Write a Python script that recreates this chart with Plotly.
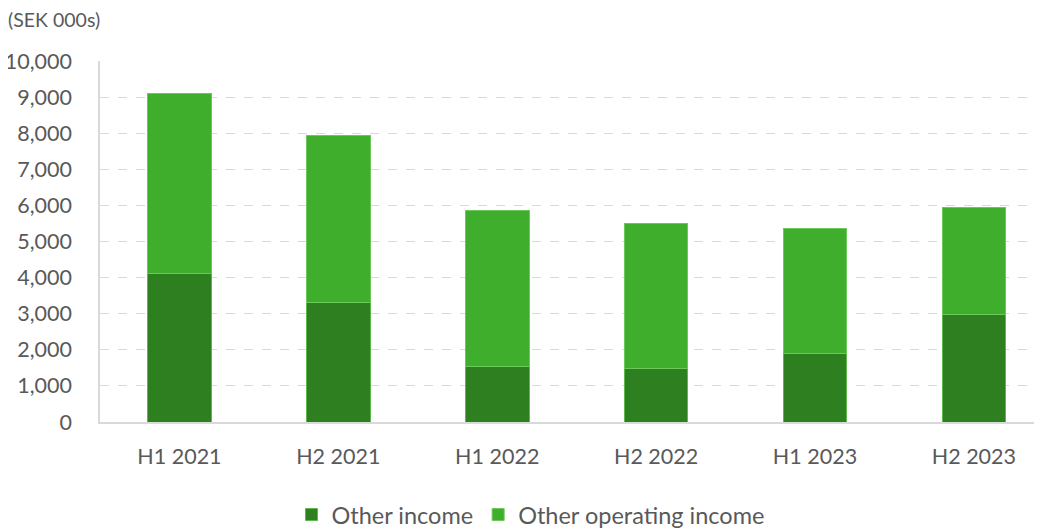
import plotly.graph_objects as go

categories = ["H1 2021", "H2 2021", "H1 2022", "H2 2022", "H1 2023", "H2 2023"]
other_income = [4100, 3320, 1540, 1480, 1890, 2990]
other_operating_income = [5000, 4630, 4330, 4010, 3480, 2940]
y_ticks = [0, 1000, 2000, 3000, 4000, 5000, 6000, 7000, 8000, 9000, 10000]

FONT = "Lato"
TXT = "#595959"

fig = go.Figure()
fig.add_bar(x=categories, y=other_income, name="Other income",
            marker=dict(color="#2d7f1f", line=dict(color="#5cb84a", width=1)), width=0.40)
fig.add_bar(x=categories, y=other_operating_income, name="Other operating income",
            marker=dict(color="#3fae2d", line=dict(color="#6cc85a", width=1)), width=0.40)

fig.update_layout(
    barmode="stack",
    width=1034, height=524,
    margin=dict(l=92, r=2, t=53, b=110, autoexpand=False),
    paper_bgcolor="white", plot_bgcolor="white",
    font=dict(family=FONT, color=TXT, size=21),
    showlegend=True,
    legend=dict(orientation="h", x=0.458, xanchor="center", y=-0.257, yanchor="middle",
                font=dict(size=23.5, color=TXT), traceorder="normal", itemwidth=30),
    xaxis=dict(range=[-0.5, 5.416], showline=True, linecolor="#d9d9d9", linewidth=1.5, ticks="",
               tickfont=dict(size=21.5, color=TXT), ticklabelstandoff=14),
    yaxis=dict(range=[0, 10000], tickvals=y_ticks, tickformat=",", showgrid=True,
               gridcolor="#d9d9d9", griddash="dash", gridwidth=1,
               showline=True, linecolor="#d9d9d9", linewidth=1.5, zeroline=False,
               tickfont=dict(size=21.5, color=TXT), ticks="", ticklabelstandoff=22),
    annotations=[dict(text="(SEK 000s)", xref="paper", yref="paper", x=-0.1, y=1.114,
                      xanchor="left", yanchor="middle", showarrow=False,
                      font=dict(size=19.5, color=TXT, family=FONT))],
)

fig.write_html("out.html")
